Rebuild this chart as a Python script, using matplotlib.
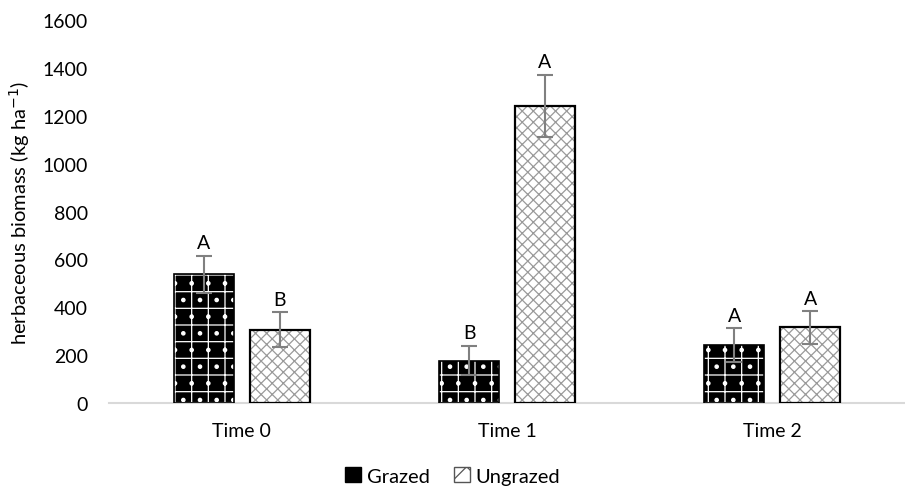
import matplotlib.pyplot as plt
import numpy as np
from matplotlib.patches import Patch

plt.rcParams['font.family'] = ['Lato', 'DejaVu Sans']
plt.rcParams['hatch.linewidth'] = 0.9

categories = ["Time 0", "Time 1", "Time 2"]
grazed = [537, 177, 242]
grazed_se = [78, 62, 70]
ungrazed = [307, 1242, 316]
ungrazed_se = [73, 130, 68]
grazed_letters = ["A", "B", "A"]
ungrazed_letters = ["B", "A", "A"]

fig = plt.figure(figsize=(9.05, 4.89), dpi=100)
ax = fig.add_axes([109 / 905, 85 / 489, 796 / 905, 383 / 489])

x = np.arange(len(categories))
w = 0.226
off = 0.143

# grazed: black fill, white pattern, black outline drawn on top
ax.bar(x - off, grazed, w, color="black", edgecolor="white", hatch="+.", linewidth=0, zorder=2)
ax.bar(x - off, grazed, w, fill=False, edgecolor="black", linewidth=1.2, zorder=3)
# ungrazed: white fill, grey cross pattern, black outline
ax.bar(x + off, ungrazed, w, color="white", edgecolor="#9a9a9a", hatch="xxx", linewidth=0, zorder=2)
ax.bar(x + off, ungrazed, w, fill=False, edgecolor="black", linewidth=1.6, zorder=3)

ax.errorbar(x - off, grazed, yerr=grazed_se, fmt="none", ecolor="#808080", elinewidth=1.5, capsize=6, capthick=1.5, zorder=4)
ax.errorbar(x + off, ungrazed, yerr=ungrazed_se, fmt="none", ecolor="#808080", elinewidth=1.5, capsize=6, capthick=1.5, zorder=4)

for xi, v, s, t in zip(x - off, grazed, grazed_se, grazed_letters):
    ax.text(xi, v + s + 18, t, ha="center", va="bottom", fontsize=14)
for xi, v, s, t in zip(x + off, ungrazed, ungrazed_se, ungrazed_letters):
    ax.text(xi, v + s + 18, t, ha="center", va="bottom", fontsize=14)

ax.set_xlim(-0.5, 2.5)
ax.set_ylim(0, 1600)
ax.set_yticks(np.arange(0, 1601, 200))
ax.set_xticks(x)
ax.set_xticklabels(categories)
ax.tick_params(axis="both", length=0, labelsize=14)
ax.tick_params(axis="x", pad=14)
ax.tick_params(axis="y", pad=15)
for side in ["top", "right", "left"]:
    ax.spines[side].set_visible(False)
ax.spines["bottom"].set_color("#d9d9d9")
ax.spines["bottom"].set_linewidth(1.5)

ax.set_ylabel("herbaceous biomass (kg ha$^{-1}$)", fontsize=14.5, labelpad=8)

handles = [
    Patch(facecolor="black", edgecolor="black", label="Grazed"),
    Patch(facecolor="white", edgecolor="#555555", hatch="x", label="Ungrazed"),
]
fig.legend(handles=handles, loc="lower center", bbox_to_anchor=(0.5, -0.03), ncol=2,
           frameon=False, fontsize=14.5, handlelength=0.8, handleheight=0.8,
           handletextpad=0.3, columnspacing=1.2)

fig.savefig("out.png", dpi=100)
